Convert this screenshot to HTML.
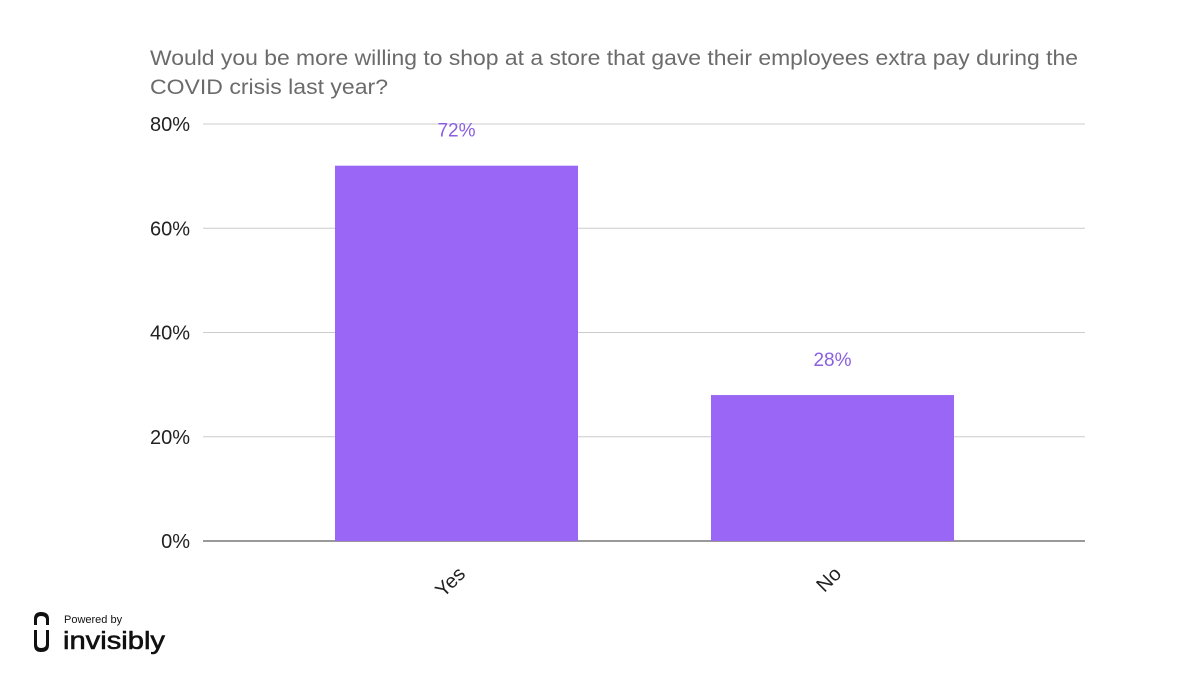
<!DOCTYPE html>
<html><head><meta charset="utf-8"><style>
body{margin:0;background:#fff;width:1200px;height:675px;overflow:hidden;font-family:"Liberation Sans",Arial,sans-serif}
</style></head><body>
<svg width="1200" height="675" xmlns="http://www.w3.org/2000/svg">
<g fill="#6b6b6b" font-size="21">
<text x="150" y="65" textLength="928" lengthAdjust="spacingAndGlyphs">Would you be more willing to shop at a store that gave their employees extra pay during the</text>
<text x="150" y="94" textLength="238" lengthAdjust="spacingAndGlyphs">COVID crisis last year?</text>
</g>
<g id="grid"></g><g id="bars"></g>
<g>
<path d="M34 625 v-6 q0-7 7-7 h0 q8 0 8 7 v6 h-3 v-5 q0-4-5-4 q-4 0-4 4 v5z" fill="#111"/>
<path d="M34 630 h3 v14 q0 4 4 4 q5 0 5-4 v-14 h3 v15 q0 7-8 7 q-7 0-7-7z" fill="#111"/>
<text x="64" y="623" font-size="11" fill="#111">Powered by</text>
<text x="63" y="649" font-size="25" fill="#111" stroke="#111" stroke-width="0.6" textLength="102" lengthAdjust="spacingAndGlyphs">invisibly</text>
</g>
</svg>
<script>
const categories=["Yes","No"];
const values=[72,28];
const labels=["72%","28%"];
const ticks=[0,20,40,60,80];
const tickLabels=["0%","20%","40%","60%","80%"];
const NS="http://www.w3.org/2000/svg";
function y(v){return 541-v*(417/80);}
function x(i){return 456.5+i*376;}
const g=document.getElementById('grid'),b=document.getElementById('bars');
function mk(t,a,p,txt){const e=document.createElementNS(NS,t);for(const k in a)e.setAttribute(k,a[k]);if(txt!=null)e.textContent=txt;p.appendChild(e);return e;}
ticks.forEach((t,i)=>{
 const l=mk('line',{x1:203,x2:1085,y1:y(t),y2:y(t),stroke:t===0?'#333':'#cccccc','stroke-width':1},g);
 
 
 const tx=mk('text',{x:190,y:y(t)+7,'text-anchor':'end','font-size':20,fill:'#222'},g,tickLabels[i]);
 
 
});
categories.forEach((c,i)=>{
 const r=mk('rect',{x:x(i)-121.5,y:y(values[i]),width:243,height:y(0)-y(values[i]),fill:'#9966f5'},b);
 
 
 const v=mk('text',{x:x(i),y:y(values[i])-29,'text-anchor':'middle','font-size':19,fill:'#8a5fe0'},b,labels[i]);
 
 
 const cl=mk('text',{x:0,y:0,'text-anchor':'end','font-size':20,fill:'#222',transform:`translate(${x(i)+10},${575}) rotate(-45)`},b,c);
 
 
});
</script>
</body></html>
